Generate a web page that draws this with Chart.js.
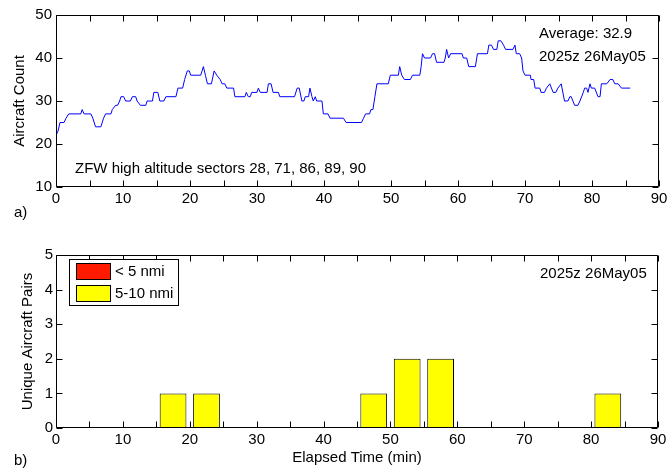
<!DOCTYPE html>
<html>
<head>
<meta charset="utf-8">
<script src="https://cdn.jsdelivr.net/npm/chart.js@4.4.0/dist/chart.umd.min.js"></script>
<style>
body { margin: 0; background: #fff; }
#wrap { position: relative; width: 671px; height: 470px; }
#countchart { position: absolute; left: 0; top: 0; }
#pairschart { position: absolute; left: 0; top: 230px; }
</style>
</head>
<body>
<div id="wrap">
<canvas id="countchart" width="671" height="230"></canvas>
<canvas id="pairschart" width="671" height="240"></canvas>
</div>
<script>
// top panel: aircraft count in the sectors
var elapsedMin = [0, 0.3, 0.6, 1.2, 1.5, 1.9, 3.7, 3.9, 4.2, 5.2, 5.5, 5.9, 6.7, 7.1, 7.4, 8.2, 8.4, 8.9, 9.2, 9.5, 9.7, 10.1,
  10.4, 11.1, 11.4, 11.9, 12.1, 12.6, 13.4, 13.6, 14.4, 14.6, 15.2, 15.5, 16.1, 16.4, 17.9, 18.2, 18.9, 19.2, 19.6, 19.9,
  20.1, 21.6, 22.0, 22.3, 22.6, 23.2, 23.6, 24.0, 24.5, 24.8, 25.2, 25.5, 26.5, 26.7, 28.2, 28.4, 28.7, 29.0, 29.2, 30.0,
  30.2, 30.5, 31.5, 31.7, 32.1, 32.4, 33.2, 33.4, 35.6, 36.0, 36.3, 36.7, 37.0, 37.2, 37.7, 37.9, 38.2, 38.4, 38.7, 38.9,
  39.7, 39.9, 40.6, 40.9, 42.9, 43.3, 45.6, 45.9, 46.2, 46.8, 47.0, 47.3, 47.6, 47.9, 49.6, 49.9, 51.1, 51.3, 51.6, 52.0,
  52.9, 53.2, 54.3, 54.5, 54.7, 55.0, 55.9, 56.2, 56.5, 56.8, 57.9, 58.1, 58.3, 58.6, 58.9, 60.6, 60.8, 61.3, 61.6, 62.6,
  62.9, 64.4, 64.6, 65.0, 65.3, 65.8, 66.0, 66.4, 66.8, 67.1, 68.2, 68.5, 68.7, 69.2, 69.5, 69.7, 70.0, 70.8, 70.9, 71.3,
  71.5, 72.2, 72.4, 72.9, 73.2, 73.7, 74.2, 74.6, 74.9, 75.4, 75.9, 76.4, 76.7, 76.9, 77.4, 77.9, 78.2, 78.7, 78.9, 79.2,
  79.4, 79.7, 79.9, 80.4, 80.9, 81.2, 81.4, 82.2, 82.7, 83.1, 83.4, 83.9, 84.4, 85.7]
var aircraftCount = [22, 23, 25, 25, 26, 27, 27, 28, 27, 27, 26, 24, 24, 26, 27, 27, 28, 29, 29, 30, 31, 31,
  30, 30, 31, 31, 30, 29, 29, 30, 30, 32, 32, 30, 30, 31, 31, 33, 33, 35, 37, 37,
  36, 36, 38, 36, 34, 34, 37, 36, 35, 34, 34, 33, 33, 31, 31, 32, 31, 31, 32, 32,
  33, 32, 32, 34, 34, 32, 32, 31, 31, 33, 33, 30, 30, 31, 31, 33, 31, 30, 31, 30,
  30, 27, 27, 26, 26, 25, 25, 26, 27, 27, 28, 28, 31, 34, 34, 36, 36, 38, 36, 35,
  35, 36, 36, 38, 41, 40, 40, 41, 41, 39, 39, 40, 42, 40, 41, 41, 40, 40, 38, 38,
  41, 41, 43, 43, 42, 42, 44, 44, 43, 42, 42, 43, 41, 41, 40, 37, 36, 36, 35, 35,
  33, 33, 32, 32, 33, 34, 32, 32, 33, 34, 30, 30, 31, 31, 29, 29, 30, 32, 33, 33,
  32, 34, 33, 33, 31, 31, 34, 34, 35, 35, 34, 34, 33, 33]

// bottom panel: unique aircraft pairs per 5 minute bin
var binCenters = [17.5, 22.5, 47.5, 52.5, 57.5, 82.5]
var pairsUnder5 = []
var pairs5to10 = [1, 1, 1, 2, 2, 1]
var seriesNames = ['< 5 nmi', '5-10 nmi']

var xTicks = [0, 5, 10, 15, 20, 25, 30, 35, 40, 45, 50, 55, 60, 65, 70, 75, 80, 85, 90]
var yTicksCount = [10, 20, 30, 40, 50]
var yTicksPairs = [0, 1, 2, 3, 4, 5]

var avgText = 'Average: 32.9'
var timeText = '2025z 26May05'
var sectorText = 'ZFW high altitude sectors 28, 71, 86, 89, 90'

var FONT = '"Liberation Sans", Arial, sans-serif'
var fontPx = 15

function setTicks(list) {
    return function(scale) {
        scale.ticks = list.map(function(v) { return {value: v} })
    }
}

// matlab style box with inward ticks on all four sides
var boxTicks = {
    id: 'boxTicks',
    afterDatasetsDraw: function(chart) {
        var ctx = chart.ctx
        var a = chart.chartArea
        var L = Math.round(a.left) + 0.5, R = Math.round(a.right) - 0.5
        var T = Math.round(a.top) + 0.5, B = Math.round(a.bottom) - 0.5
        var len = 6
        ctx.save()
        ctx.strokeStyle = '#000'
        ctx.lineWidth = 1
        ctx.beginPath()
        ctx.rect(L, T, R - L, B - T)
        chart.scales.x.ticks.forEach(function(t) {
            var px = Math.round(chart.scales.x.getPixelForValue(t.value)) + 0.5
            ctx.moveTo(px, B); ctx.lineTo(px, B - len)
            ctx.moveTo(px, T); ctx.lineTo(px, T + len)
        })
        chart.scales.y.ticks.forEach(function(t) {
            var py = Math.round(chart.scales.y.getPixelForValue(t.value)) + 0.5
            ctx.moveTo(L, py); ctx.lineTo(L + len, py)
            ctx.moveTo(R, py); ctx.lineTo(R - len, py)
        })
        ctx.stroke()
        ctx.restore()
    }
}

// free text labels given per chart in options.plugins.notes
var notes = {
    id: 'notes',
    afterDraw: function(chart, args, opts) {
        var ctx = chart.ctx
        ctx.save()
        ctx.font = fontPx + 'px ' + FONT
        ctx.fillStyle = '#000'
        ctx.textBaseline = 'middle'
        ctx.textAlign = 'left'
        ;(opts.items || []).forEach(function(n) {
            ctx.fillText(n.text, n.x, n.y)
        })
        ctx.restore()
    }
}

// boxed legend in the upper left of the pairs panel
var boxLegend = {
    id: 'boxLegend',
    afterDraw: function(chart, args, opts) {
        if (!opts.show) return
        var ctx = chart.ctx
        ctx.save()
        ctx.lineWidth = 1
        ctx.strokeStyle = '#000'
        ctx.fillStyle = '#fff'
        ctx.fillRect(69.5, 29.5, 109, 46)
        ctx.strokeRect(69.5, 29.5, 109, 46)
        ctx.font = fontPx + 'px ' + FONT
        ctx.textBaseline = 'middle'
        chart.data.datasets.forEach(function(ds, i) {
            var y = 33.5 + i * 22
            ctx.fillStyle = ds.backgroundColor
            ctx.fillRect(76.5, y, 34, 16)
            ctx.strokeRect(76.5, y, 34, 16)
            ctx.fillStyle = '#000'
            ctx.fillText(ds.label, 115, y + 8)
        })
        ctx.restore()
    }
}

Chart.defaults.font.family = FONT
Chart.defaults.font.size = fontPx
Chart.defaults.color = '#000'

function xAxis(height, showTitle, labelPad) {
    return {
        type: 'linear', min: 0, max: 90, offset: false,
        afterBuildTicks: setTicks(xTicks),
        afterFit: function(s) { s.height = height },
        grid: {display: false, drawTicks: false},
        border: {display: false},
        ticks: {
            autoSkip: false, maxRotation: 0, padding: labelPad,
            callback: function(v) { return v % 10 == 0 ? String(v) : '' }
        },
        title: {display: showTitle, text: 'Elapsed Time (min)', padding: {top: 0, bottom: 3}}
    }
}

function yAxis(list, min, max, title, titlePad, labelPad) {
    return {
        type: 'linear', min: min, max: max,
        afterBuildTicks: setTicks(list),
        afterFit: function(s) { s.width = 56 },
        grid: {display: false, drawTicks: false},
        border: {display: false},
        ticks: {padding: labelPad},
        title: {display: true, text: title, padding: {top: titlePad, bottom: 0}}
    }
}

var countPoints = []
for (var i = 0; i < elapsedMin.length; i++) {
    countPoints.push({x: elapsedMin[i], y: aircraftCount[i]})
}

new Chart('countchart', {
    type: 'line',
    data: {
        datasets: [{
            label: 'Aircraft Count',
            data: countPoints,
            borderColor: '#0000ff',
            borderWidth: 1,
            pointRadius: 0,
            tension: 0
        }]
    },
    options: {
        responsive: false,
        animation: false,
        layout: {padding: {left: 0, right: 12, top: 15, bottom: 0}},
        scales: {
            x: xAxis(43, false, 3),
            y: yAxis(yTicksCount, 10, 50, 'Aircraft Count', 11, 4)
        },
        plugins: {
            legend: {display: false},
            tooltip: {enabled: false},
            notes: {items: [
                {text: avgText, x: 539, y: 33.5},
                {text: timeText, x: 539, y: 57},
                {text: sectorText, x: 75, y: 169},
                {text: 'a)', x: 14, y: 213}
            ]},
            boxLegend: {show: false}
        }
    },
    plugins: [boxTicks, notes, boxLegend]
})

var pairsChart = new Chart('pairschart', {
    type: 'bar',
    data: {
        datasets: [{
            label: seriesNames[0],
            data: binCenters.map(function(c, i) { return {x: c, y: pairsUnder5[i] || 0} }).filter(function(p) { return p.y > 0 }),
            backgroundColor: '#ff1a00',
            borderColor: '#000',
            borderWidth: 1
        }, {
            label: seriesNames[1],
            data: binCenters.map(function(c, i) { return {x: c, y: pairs5to10[i]} }),
            backgroundColor: '#ffff00',
            borderColor: '#000',
            borderWidth: 1
        }]
    },
    options: {
        responsive: false,
        animation: false,
        grouped: false,
        categoryPercentage: 1,
        barPercentage: 0.8,
        layout: {padding: {left: 0, right: 13, top: 25, bottom: 0}},
        scales: {
            x: xAxis(42, true, 3),
            y: yAxis(yTicksPairs, 0, 5, 'Unique Aircraft Pairs', 19, 3)
        },
        plugins: {
            legend: {display: false},
            tooltip: {enabled: false},
            notes: {items: [
                {text: timeText, x: 540, y: 44},
                {text: 'b)', x: 14, y: 231}
            ]},
            boxLegend: {show: true}
        }
    },
    plugins: [boxTicks, notes, boxLegend]
})
</script>
</body>
</html>
